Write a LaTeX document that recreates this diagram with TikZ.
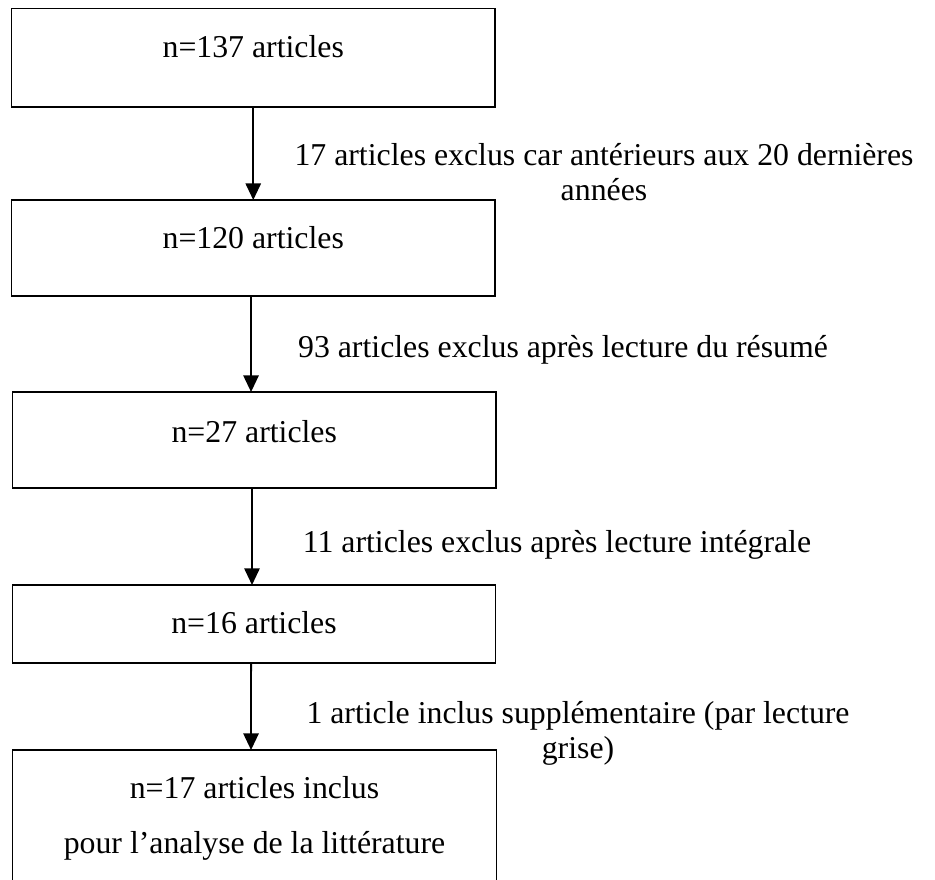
\documentclass[tikz,border=0pt]{standalone}
\usepackage{fontspec}
\setmainfont{Liberation Serif}
\usetikzlibrary{arrows.meta}
\begin{document}
\begin{tikzpicture}[x=0.75pt,y=-0.75pt,
  box/.style={draw, line width=1pt, inner sep=0pt, outer sep=0pt,
    minimum width=362.6pt, anchor=base, align=center,
    font=\fontsize{23.85}{41.25}\selectfont},
  lbl/.style={inner sep=0pt, anchor=base, align=center,
    font=\fontsize{23.85}{26.25}\selectfont},
  arr/.style={-{Triangle[width=11.5pt,length=12.5pt]}, line width=1.4pt}]
\clip (0,0) rectangle (935,879);
\fill[white] (0,0) rectangle (935,879);
% boxes
\node[box, text height=36.375pt, text depth=37.5pt] (b1) at (253.25,57) {n=137 articles};
\node[box, text height=36pt, text depth=36pt] (b2) at (253.25,248) {n=120 articles};
\node[box, text height=37.5pt, text depth=34.5pt] (b3) at (254.25,442) {n=27 articles};
\node[box, text height=36pt, text depth=22.5pt] (b4) at (254,633) {n=16 articles};
\node[box, text height=77.25pt, text depth=35.25pt] (b5) at (254.5,853) {n=17 articles inclus\\pour l’analyse de la littérature};
% connectors
\draw[arr] (b1.south) -- (b2.north);
\draw[arr] ([xshift=-1.7pt]b2.south) -- ([xshift=-2.4pt]b3.north);
\draw[arr] ([xshift=-1.7pt]b3.south) -- ([xshift=-1.5pt]b4.north);
\draw[arr] ([xshift=-2.2pt]b4.south) -- ([xshift=-2.6pt]b5.north);
% labels
\node[lbl] (l1) at (604,200) {17 articles exclus car antérieurs aux 20 dernières\\années};
\node[lbl] (l2) at (563,357) {93 articles exclus après lecture du résumé};
\node[lbl] (l3) at (557,552) {11 articles exclus après lecture intégrale};
\node[lbl] (l4) at (578,758) {1 article inclus supplémentaire (par lecture\\grise)};
\end{tikzpicture}
\end{document}
